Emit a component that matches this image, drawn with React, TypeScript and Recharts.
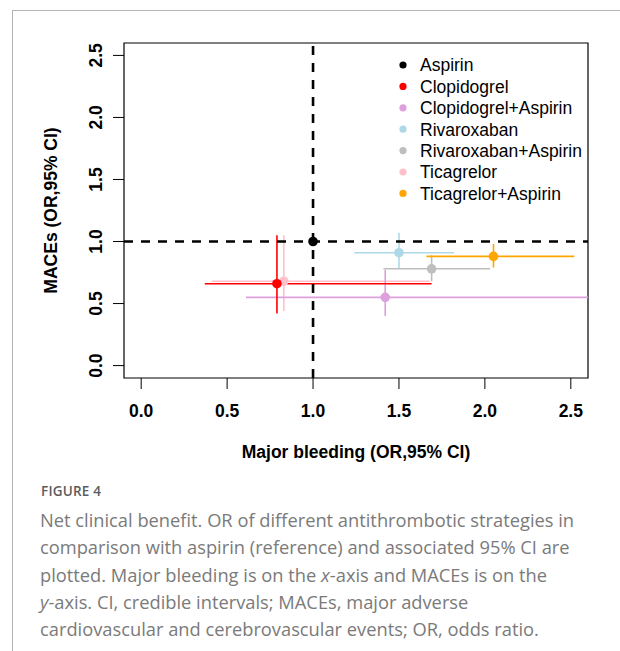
import {
  ScatterChart, Scatter, XAxis, YAxis, ErrorBar, ReferenceLine, ReferenceArea, Legend,
} from "recharts";

const drugs = [
  "Aspirin", "Clopidogrel", "Clopidogrel+Aspirin", "Rivaroxaban",
  "Rivaroxaban+Aspirin", "Ticagrelor", "Ticagrelor+Aspirin",
];
const colors = ["#000000", "#FF0000", "#DDA0DD", "#ADD8E6", "#BEBEBE", "#FFC0CB", "#FFA500"];

// major bleeding OR (x) and 95% CI
const bleedOR = [1, 0.79, 1.42, 1.5, 1.69, 0.83, 2.05];
const bleedLow = [1, 0.37, 0.61, 1.24, 1.41, 0.41, 1.66];
const bleedHigh = [1, 1.69, 3.05, 1.82, 2.03, 1.68, 2.52];
// MACEs OR (y) and 95% CI
const maceOR = [1, 0.66, 0.55, 0.91, 0.78, 0.68, 0.88];
const maceLow = [1, 0.42, 0.4, 0.78, 0.68, 0.44, 0.79];
const maceHigh = [1, 1.05, 0.77, 1.07, 0.89, 1.05, 0.98];

const ticks = [0, 0.5, 1, 1.5, 2, 2.5];
const DOMAIN: [number, number] = [-0.1, 2.6];

// draw order (red over pink, aspirin on top)
const drawOrder = [5, 2, 3, 4, 6, 1, 0];

const FONT = "'Liberation Sans', Arial, Helvetica, sans-serif";

function seriesData(i: number) {
  const x = bleedOR[i];
  const y = maceOR[i];
  const hi = Math.min(bleedHigh[i], DOMAIN[1]);
  return [{
    x, y,
    xErr: [x - bleedLow[i], hi - x],
    yErr: [y - maceLow[i], maceHigh[i] - y],
  }];
}

const XTick = (p: any) => (
  <text x={p.x} y={p.y + 26} textAnchor="middle" fontFamily={FONT} fontWeight="bold" fontSize={17.5} fill="#000">
    {Number(p.payload.value).toFixed(1)}
  </text>
);

const YTick = (p: any) => (
  <text transform={`translate(${p.x - 9},${p.y}) rotate(-90)`} textAnchor="middle" fontFamily={FONT} fontWeight="bold" fontSize={17.5} fill="#000">
    {Number(p.payload.value).toFixed(1)}
  </text>
);

const XTitle = (p: any) => {
  const vb = p.viewBox;
  return (
    <text x={vb.x + vb.width / 2} y={vb.y + 80} textAnchor="middle" fontFamily={FONT} fontWeight="bold" fontSize={17.5} fill="#000">
      Major bleeding (OR,95% CI)
    </text>
  );
};

const YTitle = (p: any) => {
  const vb = p.viewBox;
  return (
    <text transform={`translate(${vb.x - 7},${vb.y + vb.height / 2}) rotate(-90)`} textAnchor="middle" fontFamily={FONT} fontWeight="bold" fontSize={17.5} fill="#000">
      MACEs (OR,95% CI)
    </text>
  );
};

const renderLegend = () => (
  <svg width={200} height={160}>
    {drugs.map((d, i) => (
      <g key={d}>
        <circle cx={11} cy={13 + i * 21.4} r={3.6} fill={colors[i]} />
        <text x={28} y={13 + i * 21.4} dy="0.36em" fontFamily={FONT} fontSize={17.5} fill="#000">{d}</text>
      </g>
    ))}
  </svg>
);

export default function App() {
  return (
    <div style={{ position: "absolute", left: 0, top: 0, width: 620, height: 651, background: "#fff", overflow: "hidden" }}>
      <div style={{ position: "absolute", left: 12, top: 10, width: 608, height: 641, borderLeft: "1px solid #b4b4b4", borderTop: "1px solid #b4b4b4" }} />
      <div style={{ position: "absolute", left: 0, top: 0 }}>
        <ScatterChart width={620} height={480} margin={{ top: 43, right: 32, bottom: 72, left: 64 }}>
          <XAxis
            type="number" dataKey="x" domain={DOMAIN} ticks={ticks} allowDataOverflow
            axisLine={false} tickLine={{ stroke: "#000", strokeWidth: 1 }} tickSize={11}
            tick={XTick} height={30} label={XTitle}
          />
          <YAxis
            type="number" dataKey="y" domain={DOMAIN} ticks={ticks} allowDataOverflow
            axisLine={false} tickLine={{ stroke: "#000", strokeWidth: 1 }} tickSize={11}
            tick={YTick} width={60} label={YTitle}
          />
          <ReferenceArea x1={DOMAIN[0]} x2={DOMAIN[1]} y1={DOMAIN[0]} y2={DOMAIN[1]} fill="none" stroke="#000" strokeWidth={1.2} fillOpacity={0} />
          {drawOrder.filter((i) => i !== 0).map((i) => (
            <Scatter
              key={drugs[i]} name={drugs[i]} data={seriesData(i)} fill={colors[i]} isAnimationActive={false}
              shape={(p: any) => <circle cx={p.cx} cy={p.cy} r={4.8} fill={colors[i]} />}
            >
              <ErrorBar dataKey="xErr" direction="x" width={0} stroke={colors[i]} strokeWidth={1.6} isAnimationActive={false} />
              <ErrorBar dataKey="yErr" direction="y" width={0} stroke={colors[i]} strokeWidth={1.6} isAnimationActive={false} />
            </Scatter>
          ))}
          <ReferenceLine x={1} stroke="#000" strokeWidth={2.6} strokeDasharray="9 8" />
          <ReferenceLine y={1} stroke="#000" strokeWidth={2.6} strokeDasharray="9 8" />
          <Scatter
            name={drugs[0]} data={seriesData(0)} fill={colors[0]} isAnimationActive={false}
            shape={(p: any) => <circle cx={p.cx} cy={p.cy} r={4.8} fill={colors[0]} />}
          />
          <Legend
            layout="horizontal" verticalAlign="middle" align="center"
            wrapperStyle={{ left: 392, top: 52, width: 200, height: 160 }}
            content={renderLegend}
          />
        </ScatterChart>
      </div>
      <div style={{ position: "absolute", left: 41, top: 482, fontFamily: "'Open Sans', sans-serif", fontSize: 13.5, fontWeight: 600, color: "#5c5c5c", letterSpacing: 0.2 }}>
        FIGURE 4
      </div>
      <div style={{ position: "absolute", left: 40, top: 506, fontFamily: "'Open Sans', sans-serif", fontSize: 18.3, lineHeight: "27.3px", color: "#7a7a7a", whiteSpace: "nowrap" }}>
        Net clinical benefit. OR of different antithrombotic strategies in<br />
        comparison with aspirin (reference) and associated 95% CI are<br />
        plotted. Major bleeding is on the <i>x</i>-axis and MACEs is on the<br />
        <i>y</i>-axis. CI, credible intervals; MACEs, major adverse<br />
        cardiovascular and cerebrovascular events; OR, odds ratio.
      </div>
    </div>
  );
}
